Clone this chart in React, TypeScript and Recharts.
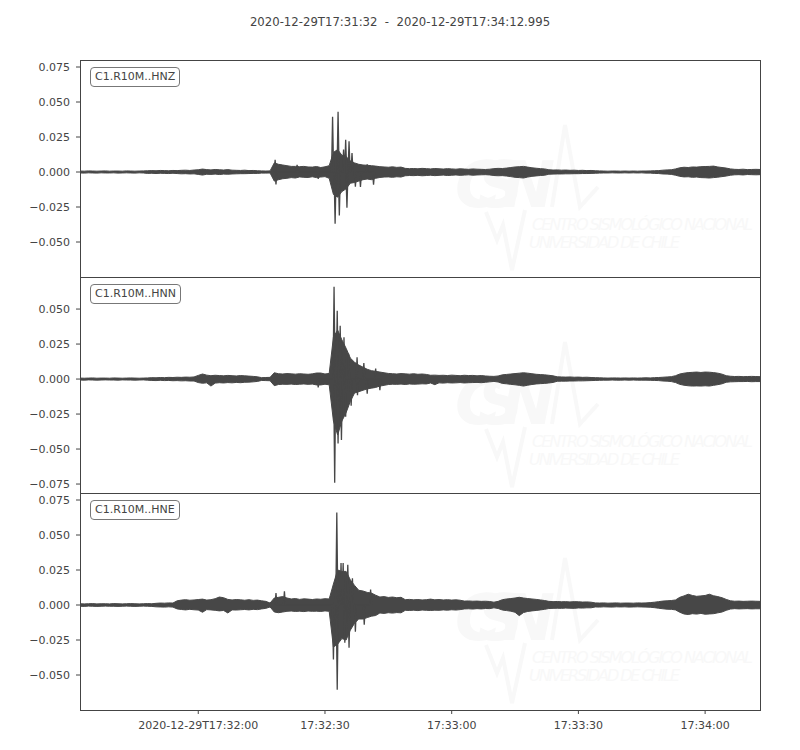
import React from "react";
import { ComposedChart, Area, Line, XAxis, YAxis } from "recharts";

const TITLE_START = "2020-12-29T17:31:32";
const TITLE_END = "2020-12-29T17:34:12.995";

// seconds after 17:31:32, one min/max envelope sample per second
const SECONDS = Array.from({ length: 162 }, (_, i) => i);
const X_END = 160.995;
const X_TICKS = [28, 58, 88, 118, 148];
const X_LABELS = ["2020-12-29T17:32:00", "17:32:30", "17:33:00", "17:33:30", "17:34:00"];

// all amplitudes in units of 1e-3
const SCALE = 0.001;

// --- HNZ: body of the trace (upper / lower envelope) ---
const HNZ_HI = [
  0.7, 0.6, 0.8, 0.7, 0.6, 0.7, 0.8, 0.6, 0.7, 0.7, 0.6, 0.8, 0.7, 0.6, 0.7, 0.8,
  0.9, 1.0, 0.9, 1.1, 1.0, 0.9, 1.1,
  1.0, 1.2, 1.3, 1.1, 1.4, 1.6, 2.1, 1.7, 1.5, 1.8, 1.6, 1.4, 1.7, 1.3, 1.2, 1.1, 1.3, 1.0, 1.1, 0.9, 0.8,
  0.7, 0.8,
  6.5, 5.5, 5.0, 4.5, 4.0, 4.0, 3.8, 4.0, 3.6, 3.5, 3.9, 3.2, 3.7, 4.5,
  14.0, 16.0, 12.0, 11.0, 8.0, 6.5, 5.5, 5.0, 4.8, 4.5, 4.2, 3.8, 3.6,
  3.4, 3.7, 3.3, 3.5,
  2.6, 2.4, 2.5, 2.3, 2.6, 2.4, 2.2, 2.5, 2.3, 2.1, 2.4, 2.2, 2.0, 2.3, 2.1, 1.9, 2.2, 2.0, 1.9, 1.8, 2.0,
  2.4, 2.6, 2.5, 2.8, 3.2, 3.6, 3.8, 4.0, 3.5, 3.0, 2.7, 2.4, 2.2,
  1.6, 1.4, 1.5, 1.3, 1.4, 1.2, 1.3, 1.1, 1.2, 1.0, 1.1, 0.9, 0.8,
  0.7, 0.6, 0.7, 0.7, 0.6, 0.7, 0.6, 0.7, 0.6, 0.7, 0.7, 0.8, 0.9, 1.0,
  1.3, 1.5, 1.6, 2.2,
  3.0, 3.4, 3.2, 3.6, 3.5, 3.8, 3.9, 4.0, 4.2, 3.6, 3.2, 2.8,
  2.2, 1.9, 1.8, 2.0, 1.7, 1.8, 1.9, 1.8,
];
const HNZ_LO = [
  -0.7, -0.8, -0.6, -0.7, -0.8, -0.6, -0.7, -0.7, -0.6, -0.8, -0.7, -0.6, -0.7, -0.8, -0.6, -0.7,
  -1.0, -0.9, -1.1, -0.9, -1.0, -1.1, -0.9,
  -1.1, -1.3, -1.2, -1.4, -1.3, -1.7, -2.2, -1.6, -1.7, -1.5, -1.8, -1.5, -1.6, -1.4, -1.3, -1.2, -1.2, -1.1, -1.0, -1.0, -0.8,
  -0.8, -0.7,
  -6.5, -5.5, -4.8, -4.5, -4.0, -4.3, -3.5, -3.8, -3.9, -3.4, -4.0, -3.6, -3.3, -4.5,
  -16.0, -18.0, -14.0, -12.0, -8.0, -7.5, -6.5, -5.5, -5.0, -5.5, -4.5, -3.9, -3.6,
  -3.5, -3.8, -3.4, -3.6,
  -2.7, -2.5, -2.6, -2.4, -2.7, -2.5, -2.3, -2.6, -2.4, -2.2, -2.5, -2.3, -2.1, -2.4, -2.2, -2.0, -2.3, -2.1, -2.0, -1.9, -2.1,
  -2.5, -2.7, -2.6, -2.9, -3.3, -3.8, -4.0, -4.3, -3.6, -3.1, -2.8, -2.5, -2.3,
  -1.6, -1.5, -1.4, -1.4, -1.3, -1.3, -1.2, -1.2, -1.1, -1.1, -1.0, -0.9, -0.8,
  -0.7, -0.7, -0.6, -0.7, -0.7, -0.6, -0.7, -0.6, -0.7, -0.6, -0.8, -0.8, -1.0, -1.1,
  -1.4, -1.5, -1.7, -2.3,
  -3.1, -3.5, -3.4, -3.8, -3.6, -4.0, -4.1, -4.3, -4.0, -3.7, -3.3, -2.9,
  -2.3, -2.0, -1.9, -2.1, -1.8, -1.9, -2.0, -1.9,
];
// single peaks sticking out of the body
const HNZ_SPIKE_T = [46.2, 46.4, 51.4, 56.4, 59.8, 60.4, 61.1, 61.4, 62.4, 62.9, 63.2, 63.7, 64.4, 65.2, 66.4, 68.0, 69.5];
const HNZ_SPIKE_V = [8.7, -8.8, 5.2, -5.0, 39.5, -37.0, 43.0, -31.0, 16.0, 23.0, -25.6, 22.0, 13.5, -10.5, -10.7, 5.5, -9.0];

// --- HNN ---
const HNN_HI = [
  0.7, 0.6, 0.7, 0.8, 0.6, 0.7, 0.7, 0.6, 0.8, 0.7, 0.6, 0.7, 0.8, 0.7, 0.6, 0.7, 0.8,
  1.0, 0.9, 1.1, 1.0, 1.2, 1.1, 1.3, 1.2, 1.4, 1.3, 1.5,
  2.6, 3.6, 2.8, 2.4, 2.7, 2.5, 2.3, 2.6, 2.4, 2.2, 2.5, 2.3, 2.1, 1.9, 1.6,
  1.0, 1.1, 1.2,
  4.5, 3.8, 3.6, 3.9, 3.7, 3.5, 3.8, 3.6, 3.4, 3.7, 4.3, 4.3, 3.6, 4.0,
  30.0, 35.0, 28.0, 22.0, 15.0, 12.0, 10.0, 8.5, 7.0, 6.0, 5.5, 5.0, 4.5,
  4.0, 3.8, 3.6, 3.9, 3.7, 3.5, 3.8, 3.4, 3.6, 3.3,
  2.7, 2.8, 2.6, 2.7, 2.5, 2.8, 2.6, 2.4, 2.7, 2.5, 2.6, 2.3, 2.5, 2.2, 2.0,
  1.9, 2.2,
  3.0, 3.3, 3.6, 3.9, 4.2, 4.5, 4.2, 3.8, 3.4, 3.2, 3.0, 2.7, 2.3,
  1.6, 1.5, 1.4, 1.5, 1.3, 1.4, 1.2, 1.3, 1.1, 1.0, 0.9,
  0.8, 0.7, 0.8, 0.8, 0.7, 0.8, 0.7, 0.8, 0.7, 0.8, 0.9, 0.8, 1.0, 1.1,
  1.3, 1.5, 1.7, 2.4,
  3.6, 4.2, 4.6, 4.8, 5.0, 4.7, 5.0, 4.9, 4.6, 4.2, 3.5,
  2.4, 2.0, 1.8, 1.9, 1.7, 1.8, 1.9, 1.8, 1.7,
];
const HNN_LO = [
  -0.7, -0.8, -0.6, -0.7, -0.8, -0.7, -0.6, -0.7, -0.7, -0.8, -0.6, -0.7, -0.7, -0.8, -0.7, -0.6, -0.8,
  -1.0, -1.1, -0.9, -1.1, -1.0, -1.2, -1.1, -1.3, -1.2, -1.4, -1.4,
  -2.5, -3.0, -2.7, -5.0, -2.9, -2.6, -2.8, -2.5, -2.7, -2.4, -2.6, -2.3, -2.2, -2.0, -1.7,
  -1.0, -1.1, -1.2,
  -4.7, -3.9, -3.7, -3.8, -3.6, -3.9, -3.7, -3.5, -3.8, -3.6, -4.2, -4.2, -3.7, -4.1,
  -30.0, -40.0, -30.0, -24.0, -16.0, -10.0, -9.0, -8.0, -7.0, -6.5, -6.0, -5.0, -4.5,
  -3.9, -3.7, -3.8, -3.6, -3.9, -3.5, -3.7, -3.6, -3.4, -3.5,
  -2.8, -4.0, -2.7, -2.9, -2.6, -2.8, -2.7, -2.5, -2.8, -2.6, -2.5, -2.4, -2.6, -2.3, -2.0,
  -1.7, -2.1,
  -3.1, -3.4, -3.8, -4.1, -4.5, -5.0, -4.4, -3.9, -3.5, -3.3, -3.1, -2.8, -2.4,
  -1.6, -1.5, -1.5, -1.4, -1.4, -1.3, -1.3, -1.2, -1.1, -1.0, -0.9,
  -0.8, -0.8, -0.7, -0.8, -0.8, -0.7, -0.8, -0.7, -0.8, -0.8, -0.8, -0.9, -1.0, -1.1,
  -1.4, -1.5, -1.8, -2.5,
  -3.8, -4.4, -4.8, -5.0, -4.9, -5.0, -4.8, -5.0, -4.5, -4.0, -3.4,
  -2.3, -2.0, -1.9, -1.8, -1.8, -1.7, -1.9, -1.8, -1.8,
];
const HNN_SPIKE_T = [56.4, 60.15, 60.3, 60.9, 61.1, 61.6, 61.9, 62.5, 62.9, 63.6, 64.2, 65.6, 65.7, 67.2, 68.0, 70.0, 71.0];
const HNN_SPIKE_V = [-6.0, 66.0, -74.0, 48.8, -46.0, 38.0, -43.5, 29.8, -27.0, 18.0, -19.0, 15.6, -11.6, 11.4, -10.4, 7.5, -8.0];

// --- HNE ---
const HNE_HI = [
  0.9, 0.8, 0.9, 1.0, 0.8, 0.9, 0.9, 0.8, 1.0, 0.9, 0.8, 0.9, 1.0, 0.9, 0.8, 0.9, 1.0, 0.9,
  1.2, 1.4, 1.3, 1.5, 1.4,
  3.0, 3.5, 3.8, 3.4, 3.6, 3.9, 4.2, 3.5, 3.8, 4.5, 5.7, 5.2, 4.0, 3.6, 3.9, 3.7, 3.4, 3.8, 3.3, 3.5, 3.0, 2.6,
  1.4,
  5.0, 5.5, 6.0, 5.0, 4.3, 4.6, 4.0, 4.4, 4.2, 3.9, 4.3, 4.1, 4.5, 4.3,
  15.0, 25.0, 24.0, 24.0, 18.0, 14.0, 10.5, 10.0, 9.0, 8.5, 7.0, 5.7, 6.0, 5.4, 5.7, 5.2, 5.5,
  3.8, 4.0, 3.7, 3.9, 3.6, 3.8, 4.2, 3.7, 3.9, 3.6, 3.8, 3.5, 3.7, 3.4,
  2.8, 2.9, 2.7, 2.8, 2.6, 2.7, 2.5,
  2.0, 2.6,
  3.8, 4.3, 4.6, 5.0, 5.5, 5.0, 4.6, 4.3, 4.0, 3.6, 3.2,
  2.6, 2.4, 2.5, 2.3, 2.4, 2.2, 2.4, 2.3, 2.1, 2.2, 2.0,
  1.5, 1.4, 1.5, 1.3, 1.4, 1.5, 1.3, 1.4, 1.4, 1.3, 1.5, 1.4, 1.5, 1.7, 2.0, 2.4,
  2.8, 3.0, 3.2, 3.6,
  5.5, 6.5, 7.7, 6.8, 6.2, 6.5, 6.8, 7.7, 6.6, 6.0, 5.2, 4.0,
  3.0, 2.7, 2.8, 2.6, 2.7, 2.8, 2.7, 2.6,
];
const HNE_LO = [
  -0.9, -1.0, -0.8, -0.9, -1.0, -0.9, -0.8, -0.9, -0.9, -1.0, -0.9, -0.8, -0.9, -1.0, -0.9, -0.8, -0.9, -1.0,
  -1.3, -1.4, -1.5, -1.3, -1.5,
  -2.8, -3.2, -3.5, -3.1, -3.4, -3.6, -5.2, -3.3, -3.5, -3.8, -4.2, -3.9, -5.7, -3.5, -3.6, -3.4, -3.2, -3.5, -3.1, -3.3, -2.8, -2.4,
  -1.4,
  -5.0, -5.5, -5.0, -4.5, -4.3, -4.6, -4.4, -4.7, -4.3, -4.5, -4.4, -4.6, -4.2, -4.5,
  -30.0, -28.0, -24.0, -25.0, -18.0, -13.0, -10.0, -10.0, -9.0, -8.0, -7.5, -5.7, -6.0, -5.5, -5.8, -5.4, -5.6,
  -3.8, -3.9, -3.7, -4.0, -3.6, -3.8, -3.9, -3.7, -3.8, -3.5, -3.7, -3.4, -3.6, -3.3,
  -2.8, -2.7, -2.9, -2.6, -2.8, -2.5, -2.6,
  -2.0, -2.5,
  -3.6, -4.0, -4.4, -5.2, -7.6, -5.4, -4.6, -4.2, -3.9, -3.5, -3.1,
  -2.5, -2.4, -2.3, -2.4, -2.2, -2.3, -2.4, -2.1, -2.2, -2.0, -2.0,
  -1.4, -1.5, -1.3, -1.4, -1.5, -1.3, -1.4, -1.3, -1.5, -1.4, -1.3, -1.4, -1.5, -1.6, -1.9, -2.3,
  -2.7, -3.0, -3.1, -3.5,
  -5.2, -6.4, -6.8, -6.2, -6.5, -6.0, -6.6, -6.4, -6.2, -5.6, -5.0, -3.8,
  -2.9, -2.6, -2.8, -2.7, -2.6, -2.8, -2.7, -2.7,
];
const HNE_SPIKE_T = [46.4, 48.4, 60.0, 60.5, 60.8, 60.9, 61.8, 62.3, 62.7, 63.4, 63.7, 64.5, 65.2, 67.3, 68.8];
const HNE_SPIKE_V = [8.5, 9.7, -39.0, 17.0, 66.0, -60.6, 30.0, 30.0, -27.0, 28.7, -30.6, 19.0, -19.0, -14.0, 11.0];

const TICKS_UP = [0.075, 0.05, 0.025, 0, -0.025, -0.05];
const TICKS_DOWN = [0.05, 0.025, 0, -0.025, -0.05, -0.075];

const PANELS = [
  { name: "C1.R10M..HNZ", hi: HNZ_HI, lo: HNZ_LO, st: HNZ_SPIKE_T, sv: HNZ_SPIKE_V, domain: [-0.075, 0.08], ticks: TICKS_UP },
  { name: "C1.R10M..HNN", hi: HNN_HI, lo: HNN_LO, st: HNN_SPIKE_T, sv: HNN_SPIKE_V, domain: [-0.0814, 0.0729], ticks: TICKS_DOWN },
  { name: "C1.R10M..HNE", hi: HNE_HI, lo: HNE_LO, st: HNE_SPIKE_T, sv: HNE_SPIKE_V, domain: [-0.075, 0.08], ticks: TICKS_UP },
];

// layout
const PANEL_TOP = [60, 277, 493];
const PANEL_H = [217, 216, 217];
const PLOT_LEFT = 80;
const PLOT_RIGHT = 760;
const INK = "#444";
const WAVE = "#474747";
const FONT = "'DejaVu Sans', sans-serif";
const SPIKE_HALF = 0.25; // seconds either side of a peak

function envelope(hi: number[], lo: number[]) {
  return SECONDS.map((s, i) => ({ t: s, band: [lo[i] * SCALE, hi[i] * SCALE] }));
}

// each peak as a narrow tooth rising out of the zero line (hidden inside the body)
function spikes(ts: number[], vs: number[]) {
  const rows: { t: number; v: number }[] = [];
  ts.forEach((t, i) => {
    rows.push({ t: t - SPIKE_HALF, v: 0 });
    rows.push({ t, v: vs[i] * SCALE });
    rows.push({ t: t + SPIKE_HALF, v: 0 });
  });
  return rows;
}

const fmtY = (v: number) => (v < 0 ? "\u2212" : "") + Math.abs(v).toFixed(3);
const fmtX = (v: number) => X_LABELS[X_TICKS.indexOf(v)] ?? "";

function Watermark({ top }: { top: number }) {
  const c = "#f8f8f8";
  return (
    <svg width={800} height={217} style={{ position: "absolute", left: 0, top }}>
      <text x={455} y={147} fontSize={64} fontWeight="bold" fontStyle="italic" fill={c} textLength={100} fontFamily={FONT}>
        CSN
      </text>
      <polyline points="552,147 565,65 580,147 598,127" fill="none" stroke={c} strokeWidth={4} />
      <polyline points="486,152 497,180 503,165 512,210 525,150" fill="none" stroke={c} strokeWidth={4} />
      <text x={532} y={170} fontSize={16} fontStyle="italic" fill={c} textLength={221} fontFamily={FONT}>
        CENTRO SISMOLÓGICO NACIONAL
      </text>
      <text x={529} y={188} fontSize={16} fontStyle="italic" fill={c} textLength={151} fontFamily={FONT}>
        UNIVERSIDAD DE CHILE
      </text>
    </svg>
  );
}

export default function App() {
  return (
    <div style={{ position: "absolute", left: 0, top: 0, width: 800, height: 750, background: "#fff", fontFamily: FONT }}>
      <div
        style={{
          position: "absolute",
          left: 0,
          width: 800,
          top: 14,
          lineHeight: "16px",
          fontSize: 11.7,
          color: INK,
          textAlign: "center",
          whiteSpace: "pre",
        }}
      >
        {`${TITLE_START}  -  ${TITLE_END}`}
      </div>

      {PANELS.map((p, i) => {
        const last = i === PANELS.length - 1;
        const top = PANEL_TOP[i];
        const h = PANEL_H[i];
        return (
          <React.Fragment key={p.name}>
            <Watermark top={top} />
            <div style={{ position: "absolute", left: 0, top }}>
              <ComposedChart
                width={800}
                height={h + (last ? 37 : 0)}
                margin={{ top: 0, right: 800 - PLOT_RIGHT, bottom: 0, left: 0 }}
              >
                <XAxis
                  dataKey="t"
                  type="number"
                  domain={[0, X_END]}
                  allowDataOverflow
                  ticks={X_TICKS}
                  tickFormatter={fmtX}
                  hide={!last}
                  height={37}
                  axisLine={false}
                  tickLine={{ stroke: INK }}
                  tickSize={4}
                  tickMargin={7}
                  interval={0}
                  tick={{ fontSize: 11, fill: INK, fontFamily: FONT }}
                />
                <YAxis
                  type="number"
                  domain={p.domain}
                  allowDataOverflow
                  ticks={p.ticks}
                  tickFormatter={fmtY}
                  width={PLOT_LEFT}
                  axisLine={false}
                  tickLine={{ stroke: INK }}
                  tickSize={4}
                  tickMargin={6}
                  interval={0}
                  tick={{ fontSize: 11, fill: INK, fontFamily: FONT }}
                />
                <Area
                  data={envelope(p.hi, p.lo)}
                  dataKey="band"
                  type="linear"
                  stroke={WAVE}
                  strokeWidth={1}
                  fill={WAVE}
                  fillOpacity={1}
                  dot={false}
                  activeDot={false}
                  isAnimationActive={false}
                />
                <Line
                  data={spikes(p.st, p.sv)}
                  dataKey="v"
                  type="linear"
                  stroke={WAVE}
                  strokeWidth={1.3}
                  dot={false}
                  activeDot={false}
                  isAnimationActive={false}
                />
              </ComposedChart>
            </div>
            <div
              style={{
                position: "absolute",
                left: PLOT_LEFT,
                top,
                width: PLOT_RIGHT - PLOT_LEFT + 1,
                height: h + 1,
                border: `1px solid ${INK}`,
                boxSizing: "border-box",
                pointerEvents: "none",
              }}
            />
            <div
              style={{
                position: "absolute",
                left: 90,
                top: top + 7,
                fontSize: 11,
                lineHeight: "14px",
                padding: "2px 4px",
                border: "1px solid #777",
                borderRadius: 4,
                color: INK,
                background: "#fff",
              }}
            >
              {p.name}
            </div>
          </React.Fragment>
        );
      })}
    </div>
  );
}
